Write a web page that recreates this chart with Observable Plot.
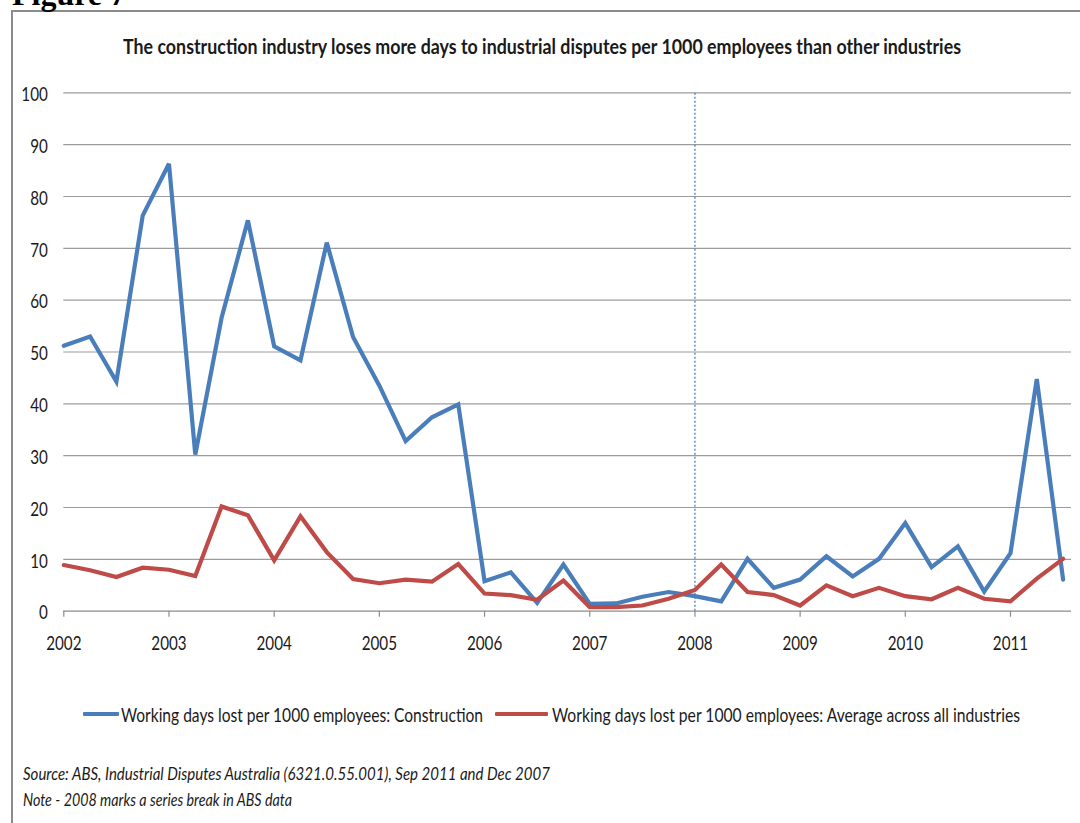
<!DOCTYPE html>
<html>
<head>
<meta charset="utf-8">
<script src="https://cdn.jsdelivr.net/npm/d3@7"></script>
<script src="https://cdn.jsdelivr.net/npm/@observablehq/plot@0.6"></script>
<style>
  html, body { margin: 0; padding: 0; background: #fff; }
  #wrap { position: relative; width: 1080px; height: 823px; overflow: hidden; background: #fff;
          font-family: Lato, "Open Sans", sans-serif; color: #1a1a1a; }
  #frame { position: absolute; left: 11px; top: 10px; width: 1200px; height: 900px;
           border-left: 2px solid #8c8c8c; border-top: 2px solid #8c8c8c; }
  #fig { position: absolute; left: 12px; top: -22px; font-family: "Liberation Serif", "DejaVu Serif", serif;
         font-weight: bold; font-size: 32px; line-height: 32px; color: #000; white-space: nowrap; }
  .fit { position: absolute; white-space: nowrap; display: inline-block; transform-origin: left center; }
  #title { left: 123px; top: 33px; font-weight: bold; font-size: 20px; line-height: 26px; }
  #chart { position: absolute; left: 0; top: 0; }
  .sw { position: absolute; height: 4px; border-radius: 1px; top: 712px; }
  .lg { top: 701px; font-size: 20px; line-height: 26px; }
  .note { left: 23px; font-style: italic; font-size: 18px; line-height: 24px; }
</style>
</head>
<body>
<div id="wrap">
  <div id="frame"></div>
  <div id="fig">Figure 7</div>
  <div id="chart"></div>
</div>
<script>
// ---- Data ----
const titleText = "The construction industry loses more days to industrial disputes per 1000 employees than other industries";
const quarters = [
  "2002 Q1","2002 Q2","2002 Q3","2002 Q4","2003 Q1","2003 Q2","2003 Q3","2003 Q4",
  "2004 Q1","2004 Q2","2004 Q3","2004 Q4","2005 Q1","2005 Q2","2005 Q3","2005 Q4",
  "2006 Q1","2006 Q2","2006 Q3","2006 Q4","2007 Q1","2007 Q2","2007 Q3","2007 Q4",
  "2008 Q1","2008 Q2","2008 Q3","2008 Q4","2009 Q1","2009 Q2","2009 Q3","2009 Q4",
  "2010 Q1","2010 Q2","2010 Q3","2010 Q4","2011 Q1","2011 Q2","2011 Q3"
];
const construction = [51.2, 53.0, 44.3, 76.3, 86.3, 30.2, 56.6, 75.4, 51.1, 48.4, 71.1, 52.9,
  43.5, 32.8, 37.4, 39.9, 5.8, 7.5, 1.6, 9.0, 1.4, 1.5, 2.8, 3.7, 2.9, 1.9, 10.1, 4.5,
  6.1, 10.6, 6.7, 10.1, 17.0, 8.5, 12.5, 3.8, 11.2, 44.8, 6.1];
const allIndustries = [8.9, 7.9, 6.6, 8.4, 8.0, 6.8, 20.2, 18.5, 9.8, 18.3, 11.4, 6.2,
  5.4, 6.1, 5.7, 9.1, 3.4, 3.1, 2.2, 5.9, 0.8, 0.8, 1.1, 2.4, 4.1, 9.0, 3.7, 3.1,
  1.1, 5.0, 2.9, 4.5, 2.9, 2.3, 4.5, 2.4, 1.9, 6.3, 10.1];
const seriesNames = [
  "Working days lost per 1000 employees: Construction",
  "Working days lost per 1000 employees: Average across all industries"
];
const seriesColors = ["#4a7ebb", "#be4b48"];
const yearTicks = [2002, 2003, 2004, 2005, 2006, 2007, 2008, 2009, 2010, 2011];
const yTicks = [0, 10, 20, 30, 40, 50, 60, 70, 80, 90, 100];
const seriesBreak = [2008];
const sourceText = "Source: ABS, Industrial Disputes Australia (6321.0.55.001), Sep 2011 and Dec 2007";
const noteText = "Note -  2008 marks a series break in ABS data";

// ---- Build table ----
const toYear = q => +q.slice(0, 4) + (+q.slice(6) - 1) / 4;
const rows = [];
[construction, allIndustries].forEach((vals, s) => {
  vals.forEach((v, i) => rows.push({t: toYear(quarters[i]), value: v, series: seriesNames[s]}));
});

const chart = Plot.plot({
  width: 1080,
  height: 680,
  marginLeft: 63.3,
  marginRight: 9,
  marginTop: 92.3,
  marginBottom: 69.3,
  style: {fontFamily: "Lato, 'Open Sans', sans-serif", fontSize: "19.5px", color: "#1a1a1a", background: "transparent"},
  x: {domain: [2002, 2011.58], label: null},
  y: {domain: [0, 100], label: null},
  color: {domain: seriesNames, range: seriesColors},
  marks: [
    Plot.ruleY(yTicks.filter(d => d > 0), {stroke: "#9c9c9c", strokeWidth: 1.2}),
    Plot.ruleY([0], {stroke: "#8c8c8c", strokeWidth: 1.2}),
    Plot.axisX({ticks: yearTicks, tickFormat: d => String(d), tickSize: 6, tickPadding: 19, stroke: "#8c8c8c", strokeWidth: 1.2}),
    Plot.axisY({ticks: yTicks, tickSize: 0, tickPadding: 16, dy: 2}),
    Plot.ruleX(seriesBreak, {y1: 0, y2: 100, stroke: "#4a7ebb", strokeWidth: 1.3, strokeDasharray: "2,2"}),
    Plot.line(rows, {x: "t", y: "value", z: "series", stroke: "series", strokeWidth: 4.2, strokeLinejoin: "miter", strokeMiterlimit: 3})
  ]
});
const wrap = document.getElementById("wrap");
document.getElementById("chart").appendChild(chart);

// narrow the tick labels like the reference's condensed face
chart.querySelectorAll("text").forEach(t => {
  const w = t.getComputedTextLength();
  if (w > 0) { t.setAttribute("textLength", (w * 0.78).toFixed(2)); t.setAttribute("lengthAdjust", "spacingAndGlyphs"); }
});

// HTML texts, squeezed horizontally to the reference's widths
function addText(text, cls, left, top, width, id) {
  const d = document.createElement("div");
  d.className = "fit " + cls;
  if (id) d.id = id;
  d.textContent = text;
  if (left != null) d.style.left = left + "px";
  if (top != null) d.style.top = top + "px";
  wrap.appendChild(d);
  const w = d.getBoundingClientRect().width;
  d.style.transform = `scaleX(${width / w})`;
  return d;
}
addText(titleText, "", null, null, 838, "title");

const swatches = [{left: 83, width: 36}, {left: 495, width: 53}];
const legendText = [{left: 121, width: 362}, {left: 552, width: 468}];
seriesNames.forEach((name, i) => {
  const sw = document.createElement("div");
  sw.className = "sw";
  sw.style.left = swatches[i].left + "px";
  sw.style.width = swatches[i].width + "px";
  sw.style.background = seriesColors[i];
  wrap.appendChild(sw);
  addText(name, "lg", legendText[i].left, null, legendText[i].width);
});
addText(sourceText, "note", null, 761, 527);
addText(noteText, "note", null, 787, 269);
</script>
</body>
</html>
